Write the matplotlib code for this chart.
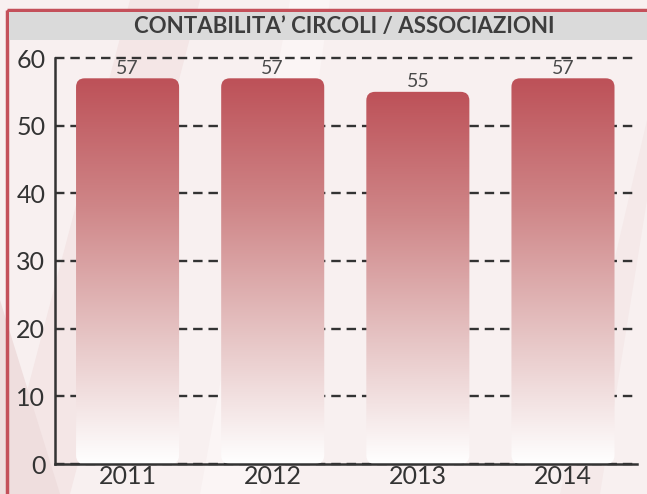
import numpy as np
import matplotlib.pyplot as plt
from matplotlib.patches import FancyBboxPatch, Rectangle, Polygon
from matplotlib.colors import LinearSegmentedColormap

years = ["2011", "2012", "2013", "2014"]
values = [57, 57, 55, 57]
title = "CONTABILITA’ CIRCOLI / ASSOCIAZIONI"

plt.rcParams['font.family'] = ['Lato', 'DejaVu Sans']

fig = plt.figure(figsize=(6.47, 4.94), dpi=100)
fig.patch.set_facecolor('#f8f0f0')

# background layer: faint diagonal streaks, red frame, grey title band
bg = fig.add_axes([0, 0, 1, 1], zorder=-1)
bg.set_xlim(0, 647)
bg.set_ylim(494, 0)
bg.axis('off')
bg.add_patch(Polygon([(0, 494), (70, 494), (200, 0), (130, 0)], facecolor='#f4e6e6', edgecolor='none'))
bg.add_patch(Polygon([(0, 494), (0, 300), (60, 494)], facecolor='#efdede', edgecolor='none'))
bg.add_patch(Polygon([(200, 494), (260, 494), (330, 0), (290, 0)], facecolor='#fbf5f5', edgecolor='none'))
bg.add_patch(Polygon([(560, 494), (600, 494), (647, 200), (647, 120)], facecolor='#f5e9e9', edgecolor='none'))
bg.add_patch(Rectangle((7, 10), 660, 500, facecolor='none', edgecolor='#c4505a', linewidth=2.5))
bg.add_patch(Rectangle((9, 12), 660, 28, facecolor='#dadada', edgecolor='none'))
bg.text(344, 26, title, ha='center', va='center', fontsize=16,
        fontweight='bold', color='#3d3d3d')

ax = fig.add_axes([55/647, 1-464/494, (637-55)/647, (464-58)/494])
ax.set_facecolor('none')
ax.set_xlim(-0.5, 3.51)
ax.set_ylim(0, 60)

cmap = LinearSegmentedColormap.from_list('bar', ['#ffffff', '#e6c4c4', '#cf8688', '#bd5158'])
grad = np.linspace(0, 1, 256).reshape(-1, 1)
width = 0.71
for i, v in enumerate(values):
    x0 = i - width / 2
    patch = FancyBboxPatch((x0, 0), width, v, boxstyle='round,pad=0,rounding_size=0.06',
                           mutation_aspect=60 / 4.0 * (582 / 406), facecolor='none',
                           edgecolor='none', zorder=3)
    ax.add_patch(patch)
    im = ax.imshow(grad, cmap=cmap, origin='lower', aspect='auto',
                   extent=(x0, x0 + width, 0, v), zorder=3)
    im.set_clip_path(patch)
    ax.text(i, v + 0.2, str(v), ha='center', va='bottom', fontsize=14, color='#4a4a4a')

ax.set_yticks(range(0, 61, 10))
ax.set_xticks(range(len(years)))
ax.set_xticklabels(years)
ax.yaxis.grid(True, linestyle=(0, (4, 2.5)), color='#333333', linewidth=1.7, zorder=1)
for gl in ax.get_ygridlines():
    gl.set_clip_on(False)
ax.set_axisbelow(True)
ax.tick_params(length=0, labelsize=18, colors='#333333')
ax.tick_params(axis='y', pad=7)
ax.tick_params(axis='x', pad=1)
for s in ['top', 'right']:
    ax.spines[s].set_visible(False)
for s in ['left', 'bottom']:
    ax.spines[s].set_color('#333333')
    ax.spines[s].set_linewidth(1.8)
    ax.spines[s].set_zorder(4)

fig.savefig('out.png', dpi=100, facecolor=fig.get_facecolor())
